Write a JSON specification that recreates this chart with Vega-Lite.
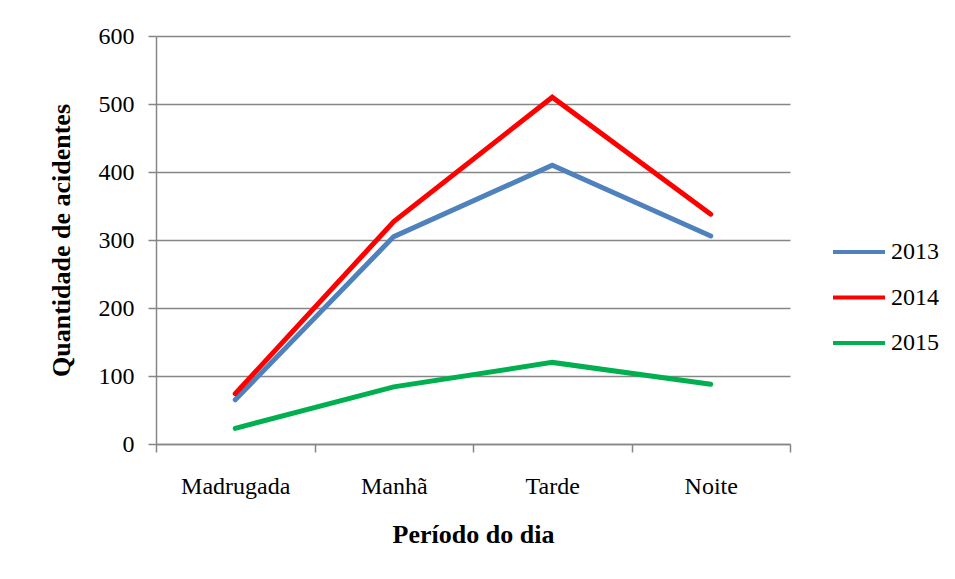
{
  "$schema": "https://vega.github.io/schema/vega-lite/v6.json",
  "width": 634,
  "height": 408,
  "padding": {"left": 156, "top": 36, "right": 165, "bottom": 135},
  "autosize": {"type": "none"},
  "background": "white",
  "config": {
    "font": "Liberation Serif",
    "view": {"stroke": null},
    "legend": {"labelFont": "Liberation Serif"},
    "axis": {"labelFont": "Liberation Serif", "titleFont": "Liberation Serif"}
  },
  "data": {
    "values": [
      {"periodo": "Madrugada", "ano": "2013", "valor": 65},
      {"periodo": "Manhã", "ano": "2013", "valor": 305},
      {"periodo": "Tarde", "ano": "2013", "valor": 410},
      {"periodo": "Noite", "ano": "2013", "valor": 306},
      {"periodo": "Madrugada", "ano": "2014", "valor": 74},
      {"periodo": "Manhã", "ano": "2014", "valor": 327},
      {"periodo": "Tarde", "ano": "2014", "valor": 510},
      {"periodo": "Noite", "ano": "2014", "valor": 338},
      {"periodo": "Madrugada", "ano": "2015", "valor": 23},
      {"periodo": "Manhã", "ano": "2015", "valor": 84},
      {"periodo": "Tarde", "ano": "2015", "valor": 120},
      {"periodo": "Noite", "ano": "2015", "valor": 88}
    ]
  },
  "mark": {"type": "line", "strokeWidth": 5, "strokeCap": "round", "strokeJoin": "miter"},
  "encoding": {
    "x": {
      "field": "periodo",
      "type": "nominal",
      "sort": ["Madrugada", "Manhã", "Tarde", "Noite"],
      "bandPosition": 0.5,
      "scale": {"type": "band", "paddingInner": 0, "paddingOuter": 0},
      "axis": {
        "title": "Período do dia",
        "titleFont": "Liberation Serif",
        "titleFontSize": 26,
        "titleFontWeight": "bold",
        "titleColor": "#000000",
        "titlePadding": 23,
        "labelAngle": 0,
        "labelFont": "Liberation Serif",
        "labelFontSize": 24,
        "labelColor": "#000000",
        "labelPadding": 22,
        "tickBand": "extent",
        "tickSize": 8,
        "tickColor": "#868686",
        "tickWidth": 1.5,
        "domainColor": "#868686",
        "domainWidth": 1.5,
        "grid": false
      }
    },
    "y": {
      "field": "valor",
      "type": "quantitative",
      "scale": {"domain": [0, 600], "nice": false},
      "axis": {
        "title": "Quantidade de acidentes",
        "titleFont": "Liberation Serif",
        "titleFontSize": 26,
        "titleFontWeight": "bold",
        "titleColor": "#000000",
        "titlePadding": 24,
        "values": [0, 100, 200, 300, 400, 500, 600],
        "labelFont": "Liberation Serif",
        "labelFontSize": 24,
        "labelColor": "#000000",
        "labelPadding": 14,
        "tickSize": 8,
        "tickColor": "#868686",
        "tickWidth": 1.5,
        "domainColor": "#868686",
        "domainWidth": 1.5,
        "grid": true,
        "gridColor": "#868686",
        "gridWidth": 1.5
      }
    },
    "color": {
      "field": "ano",
      "type": "nominal",
      "scale": {"domain": ["2013", "2014", "2015"], "range": ["#4F81BD", "#FF0000", "#00B050"]},
      "legend": {
        "title": null,
        "orient": "none",
        "legendX": 675,
        "legendY": 188,
        "symbolType": "stroke",
        "symbolSize": 2704,
        "symbolStrokeWidth": 4,
        "labelFont": "Liberation Serif",
        "labelFontSize": 24,
        "labelColor": "#000000",
        "labelOffset": 4,
        "rowPadding": 5.5
      }
    }
  }
}
